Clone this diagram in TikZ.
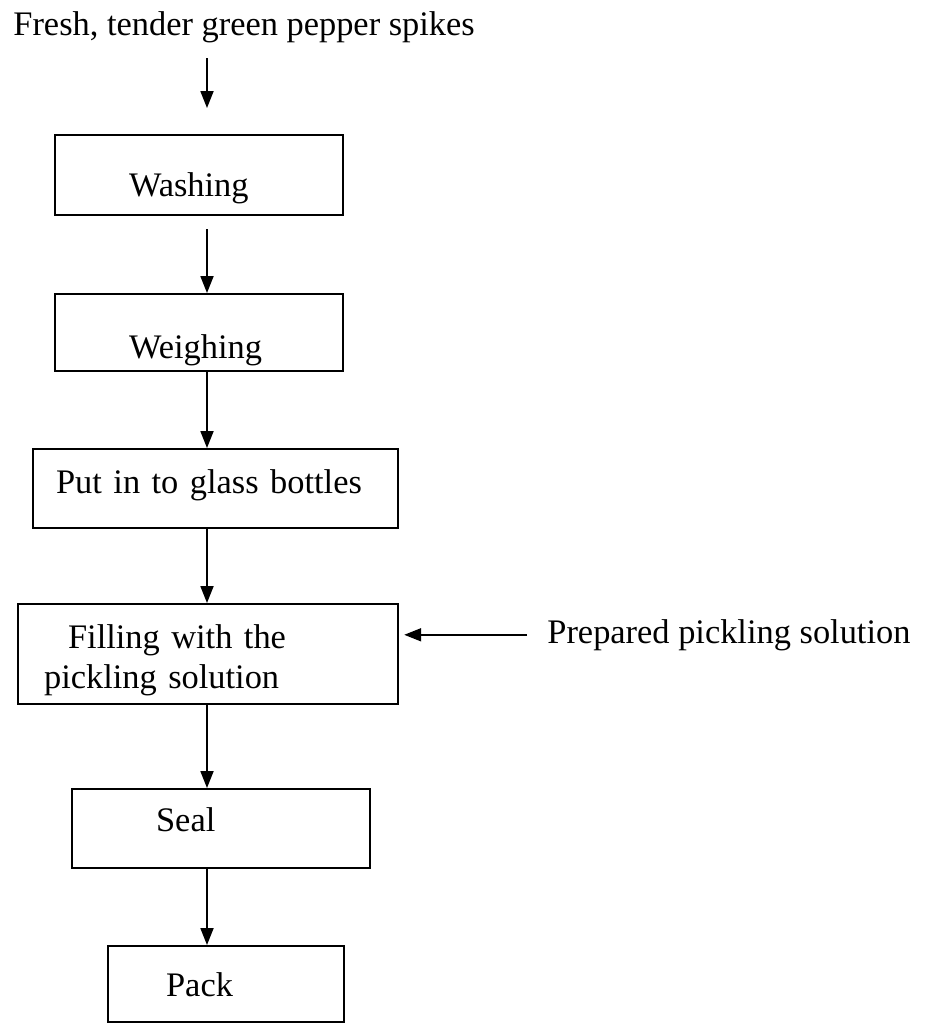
\documentclass[tikz,border=0pt]{standalone}
\usepackage{fontspec}
\setmainfont{Liberation Serif}
\usetikzlibrary{arrows.meta}

\newcommand{\steptext}{\fontsize{17.2}{20}\selectfont}

\tikzset{
	stepbox/.style={draw, line width=1.1pt, rectangle, align=left, inner ysep=0pt, anchor=north west, font=\steptext},
	flow/.style={-{Triangle[length=8.5pt, width=6.5pt]}, line width=0.9pt},
}

\begin{document}
\begin{tikzpicture}[x=0.5pt, y=-0.5pt]
		\useasboundingbox (0, 0) rectangle (926, 1023);
		\coordinate (spine) at (207, 0);
	
		\node[font=\steptext, inner sep=0pt, anchor=base west] (fresh) at (13, 35) {Fresh, tender green pepper spikes};
	
		\node[stepbox, inner xsep=37pt, text width=70pt, text height=30.5pt, text depth=9.5pt] (wash) at (54, 134) {Washing};
		\node[stepbox, inner xsep=37pt, text width=70pt, text height=32pt, text depth=6.5pt] (weigh) at (54, 293) {Weighing};
		\node[stepbox, inner xsep=11.5pt, text width=159.5pt, text height=22pt, text depth=17.5pt] (put) at (32, 448) {Put in to glass bottles};
		\node[stepbox, inner xsep=13pt, text width=164pt, text height=22pt, text depth=28pt] (fill) at (17, 603) {\hspace*{12pt}Filling with the\\pickling solution};
		\node[stepbox, inner xsep=42pt, text width=65pt, text height=21pt, text depth=18.5pt] (seal) at (71, 788) {Seal};
		\node[stepbox, inner xsep=29pt, text width=60pt, text height=25pt, text depth=13pt] (pack) at (107, 945) {Pack};
	
		\node[font=\steptext, inner sep=0pt, anchor=base west] (prep) at (547, 643) {Prepared pickling solution};
	
		\draw[flow, shorten <=7.75pt, shorten >=13pt] (fresh.south -| spine) -- (wash.north -| spine);
		\draw[flow, shorten <=6.5pt] (wash.south -| spine) -- (weigh.north -| spine);
		\foreach \a/\b in {weigh/put, put/fill, fill/seal, seal/pack} {
			\draw[flow] (\a.south -| spine) -- (\b.north -| spine);
		}
	
		\draw[flow, shorten <=10pt, shorten >=2.5pt] (prep.west) -- (prep.west -| fill.east);
	\end{tikzpicture}
\end{document}
